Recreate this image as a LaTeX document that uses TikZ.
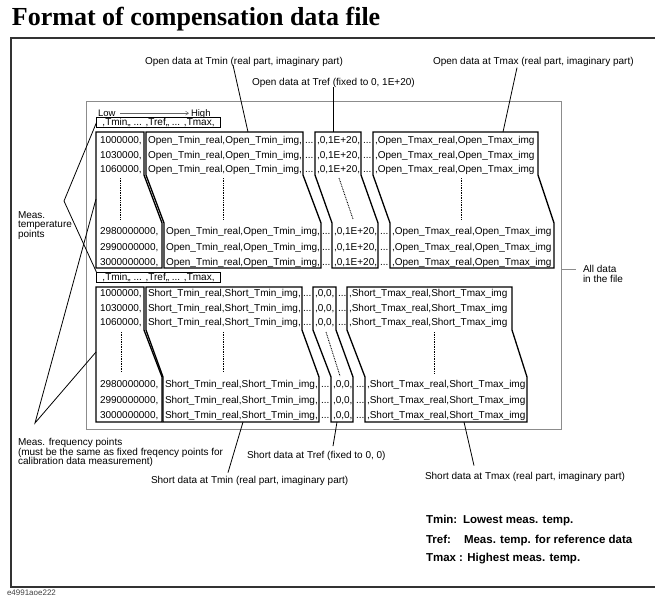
\documentclass[tikz,border=0pt]{standalone}
\usepackage{fontspec}
\setmainfont{Liberation Sans}
\newfontfamily\titlefont{Liberation Serif}
\usetikzlibrary{arrows.meta,calc}
\begin{document}
\begin{tikzpicture}[x=1pt,y=-1pt,
  every node/.style={inner sep=0pt,outer sep=0pt},
  rowtxt/.style={anchor=base west,font=\fontsize{10}{10}\selectfont},
  ann/.style={anchor=base west,font=\fontsize{10}{10}\selectfont},
  databox/.style={draw=black,line width=1.3pt,line join=miter},
  hdrbox/.style={draw=black,line width=1.3pt,minimum width=124pt,minimum height=10.5pt,font=\fontsize{10}{10}\selectfont},
  lead/.style={draw=black,line width=0.8pt},
  dotline/.style={draw=black,line width=0.9pt,dash pattern=on 0.8pt off 0.9pt},
  legend/.style={anchor=base west,font=\fontsize{11.5}{11.5}\selectfont\bfseries},
]
\useasboundingbox (0,0) rectangle (655,597);

% title
\node[anchor=base west,font=\titlefont\fontsize{26}{26}\selectfont\bfseries] (title) at (12,25) {Format of compensation data file};

% frames
\draw[black!80,line width=1.5pt] (662,38) -- (11,38) -- (11,587) -- (662,587);
\draw[black!45,line width=0.7pt] (86,101) rectangle (561,429);

% Low -> High
\node[anchor=base west,font=\fontsize{9.5}{9.5}\selectfont] (low) at (98,116.5) {Low};
\node[anchor=base west,font=\fontsize{9.5}{9.5}\selectfont] (high) at (191,116.5) {High};
\draw[black!60,line width=0.5pt,-{Straight Barb[length=3pt,width=4pt]}] ($(low.base east)+(5,-3.3)$) -- ($(low.base east -| high.west)+(-2,-3.3)$);

% header boxes
\node[hdrbox] (hdr1) at (158.5,122.5) {,Tmin,, ... ,Tref,, ... ,Tmax,};
\node[hdrbox] (hdr2) at (158.5,277.5) {,Tmin,, ... ,Tref,, ... ,Tmax,};

% ---------- Open data boxes ----------
\draw[databox] (96,132) -- (144,132) -- (144,175) -- (162,223) -- (162,268) -- (96,268) -- cycle;
\draw[databox] (146,132) -- (303,132) -- (303,175) -- (321,223) -- (321,268) -- (164,268) -- (164,223) -- (146,175) -- cycle;
\draw[databox] (315,132) -- (361,132) -- (361,175) -- (378,223) -- (378,268) -- (332,268) -- (332,223) -- (315,175) -- cycle;
\draw[databox] (373,132) -- (538,132) -- (538,175) -- (554,223) -- (554,268) -- (390,268) -- (390,223) -- (373,175) -- cycle;
\coordinate (oTminTop) at (248,132);
\coordinate (oTrefTop) at (333,132);
\coordinate (oTmaxTop) at (503,132);
\coordinate (oFreqUp) at (96,199);

\foreach \i/\y/\f in {1/140/1000000,2/154.5/1030000,3/169/1060000}{
  \node[rowtxt] (of\i) at (100,\y+3.6) {\f,};
  \node[rowtxt] (oa\i) at (148,\y+3.6) {Open\_Tmin\_real,Open\_Tmin\_img,};
  \node[rowtxt] (od\i) at (305,\y+3.6) {...};
  \node[rowtxt] (or\i) at (317,\y+3.6) {,0,1E+20,};
  \node[rowtxt] (oe\i) at (363,\y+3.6) {...};
  \node[rowtxt] (ox\i) at (375,\y+3.6) {,Open\_Tmax\_real,Open\_Tmax\_img};
}
\foreach \i/\y/\f in {4/231/2980000000,5/246.5/2990000000,6/262/3000000000}{
  \node[rowtxt] (of\i) at (100,\y+3.6) {\f,};
  \node[rowtxt] (oa\i) at (166,\y+3.6) {Open\_Tmin\_real,Open\_Tmin\_img,};
  \node[rowtxt] (od\i) at (322,\y+3.6) {...};
  \node[rowtxt] (or\i) at (334,\y+3.6) {,0,1E+20,};
  \node[rowtxt] (oe\i) at (380,\y+3.6) {...};
  \node[rowtxt] (ox\i) at (392,\y+3.6) {,Open\_Tmax\_real,Open\_Tmax\_img};
}
\draw[dotline] (120,178) -- (120,220);
\draw[dotline] (223,178) -- (223,220);
\draw[dotline] (339,178) -- (353,219);
\draw[dotline] (461,178) -- (461,220);

% ---------- Short data boxes ----------
\draw[databox] (96,287) -- (144,287) -- (144,330) -- (162,377) -- (162,422) -- (96,422) -- cycle;
\draw[databox] (146,287) -- (302,287) -- (302,330) -- (319,377) -- (319,422) -- (163,422) -- (163,377) -- (146,330) -- cycle;
\draw[databox] (313,287) -- (336,287) -- (336,330) -- (353,377) -- (353,422) -- (331,422) -- (331,377) -- (313,330) -- cycle;
\draw[databox] (347,287) -- (512,287) -- (512,330) -- (527,377) -- (527,422) -- (365,422) -- (365,377) -- (347,330) -- cycle;
\coordinate (sTminBot) at (243,422);
\coordinate (sTrefBot) at (337,422);
\coordinate (sTmaxBot) at (464,422);
\coordinate (sFreqUp) at (96,352);

\foreach \i/\y/\f in {1/293/1000000,2/307.5/1030000,3/322/1060000}{
  \node[rowtxt] (sf\i) at (100,\y+3.6) {\f,};
  \node[rowtxt] (sa\i) at (148,\y+3.6) {Short\_Tmin\_real,Short\_Tmin\_img,};
  \node[rowtxt] (sd\i) at (303,\y+3.6) {...};
  \node[rowtxt] (sr\i) at (315,\y+3.6) {,0,0,};
  \node[rowtxt] (se\i) at (338,\y+3.6) {...};
  \node[rowtxt] (sx\i) at (349,\y+3.6) {,Short\_Tmax\_real,Short\_Tmax\_img};
}
\foreach \i/\y/\f in {4/384/2980000000,5/399.5/2990000000,6/415/3000000000}{
  \node[rowtxt] (sf\i) at (100,\y+3.6) {\f,};
  \node[rowtxt] (sa\i) at (165,\y+3.6) {Short\_Tmin\_real,Short\_Tmin\_img,};
  \node[rowtxt] (sd\i) at (321,\y+3.6) {...};
  \node[rowtxt] (sr\i) at (333,\y+3.6) {,0,0,};
  \node[rowtxt] (se\i) at (356,\y+3.6) {...};
  \node[rowtxt] (sx\i) at (367,\y+3.6) {,Short\_Tmax\_real,Short\_Tmax\_img};
}
\draw[dotline] (121,332) -- (121,372);
\draw[dotline] (223,332) -- (223,372);
\draw[dotline] (326,332) -- (340,376);
\draw[dotline] (434,332) -- (434,373);

% ---------- annotations, top ----------
\node[ann] (a1) at (145,64.6) {Open data at Tmin (real part, imaginary part)};
\node[ann] (a2) at (252,85.6) {Open data at Tref (fixed to 0, 1E+20)};
\node[ann] (a3) at (433,64.6) {Open data at Tmax (real part, imaginary part)};
\draw[lead] ($(a1.base west)+(88,0.5)$) -- (oTminTop);
\draw[lead] ($(a2.base west)+(81,1.5)$) -- (oTrefTop);
\draw[lead] ($(a3.base west)+(84,3)$) -- (oTmaxTop);

% all data
\node[anchor=north west,align=left,font=\fontsize{10}{10}\selectfont] (alldata) at (583,265.5) {All data\\in the file};
\coordinate (frameR) at (561,269);
\draw[black!45,line width=0.7pt] (frameR) -- ($(alldata.west |- frameR)+(-7,0)$);

% meas. temperature points
\node[anchor=north west,align=left,font=\fontsize{10}{8.7}\selectfont] (mtemp) at (18,211.5) {Meas.\\temperature\\points};
\coordinate (vtemp) at (64,201);
\draw[lead] (hdr1.west) -- (vtemp) -- (hdr2.north west);

% meas. frequency points
\node[anchor=north west,align=left,font=\fontsize{10}{9.5}\selectfont] (mfreq) at (18,438.5) {Meas. frequency points\\(must be the same as fixed freqency points for\\calibration data measurement)};
\coordinate (vfreq) at (35,423);
\draw[lead] (oFreqUp) -- (vfreq) -- (sFreqUp);

% ---------- annotations, bottom ----------
\node[ann] (b1) at (151,483.6) {Short data at Tmin (real part, imaginary part)};
\node[ann] (b2) at (247,458.6) {Short data at Tref (fixed to 0, 0)};
\node[ann] (b3) at (425,479.6) {Short data at Tmax (real part, imaginary part)};
\draw[lead] (sTminBot) -- ($(b1.base west)+(77,-11)$);
\draw[lead] (sTrefBot) -- ($(b2.base west)+(86,-12.5)$);
\draw[lead] (sTmaxBot) -- ($(b3.base west)+(49,-14)$);

% legend
\node[legend] (l1) at (426,523) {Tmin:};
\node[legend] (l1t) at (463,523) {Lowest meas. temp.};
\node[legend] (l2) at (426,543) {Tref:};
\node[legend] (l2t) at (464,543) {Meas. temp. for reference data};
\node[legend] (l3) at (426,561) {Tmax : Highest meas. temp.};

% figure id
\node[anchor=base west,font=\fontsize{8}{8}\selectfont,text=black!75] (figid) at (7,595.5) {e4991aoe222};
\end{tikzpicture}
\end{document}
